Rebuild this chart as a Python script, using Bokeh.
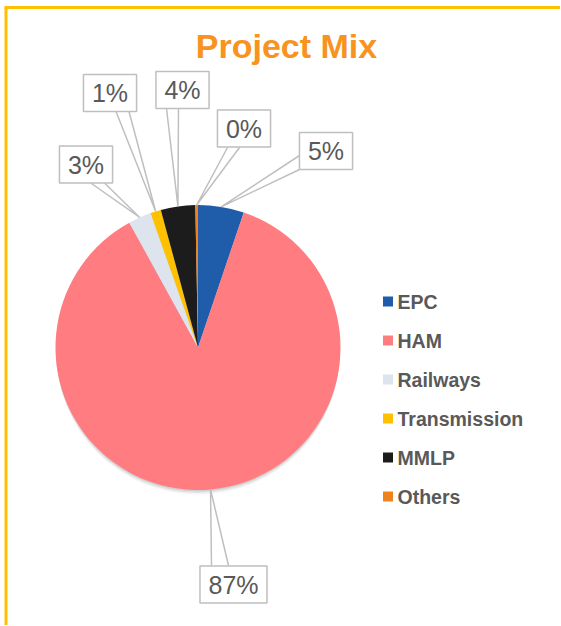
import math
from bokeh.plotting import figure
from bokeh.models import Range1d, ColumnDataSource
from bokeh.embed import file_html
from bokeh.resources import INLINE
from bokeh.core.properties import value

# ---- data ----
categories = ["EPC", "HAM", "Railways", "Transmission", "MMLP", "Others"]
shares = [5.2, 86.8, 2.6, 1.2, 3.9, 0.3]
colors = ["#1F5DAB", "#FF7C80", "#DDE4EE", "#FFC000", "#1C1C1C", "#F0821E"]
title_text = "Project Mix"

# ---- layout (page pixel coordinates; y measured downward) ----
W, H = 560, 625
CX, CY, R = 197.5, 347.0, 142.5
label_centers = [(325.5, 150.5), (233.0, 584.0), (85.5, 164.0),
                 (109.5, 92.5), (182.0, 89.5), (243.5, 128.0)]
# pointer base points, relative to box centre
pointer_bases = [((-26.5, 4.5), (-26.5, 18.5)),
                 ((-22.0, -19.0), (-5.0, -19.0)),
                 ((4.0, 18.0), (18.0, 18.0)),
                 ((6.0, 18.5), (19.0, 18.5)),
                 ((-16.0, 18.5), (-4.0, 18.5)),
                 ((-16.5, 19.0), (-4.5, 19.0))]
legend_y = [301, 340, 379, 418, 457, 496]

FONT = "Liberation Sans"
TXT = "#595959"

p = figure(width=W, height=H, output_backend="svg", toolbar_location=None,
           x_range=Range1d(0, W), y_range=Range1d(-H, 0),
           x_axis_type=None, y_axis_type=None, min_border=0)
p.grid.visible = False
p.outline_line_color = None
p.background_fill_color = "white"
p.border_fill_color = "white"

# soft shadow under pie
for dy, a in [(5, 0.06), (3.5, 0.09), (2, 0.12)]:
    p.circle(x=[CX], y=[-(CY + dy)], radius=R - 0.5, fill_color="#404040",
             fill_alpha=a, line_color=None)

# wedges
starts, ends, mids = [], [], []
cum = 0.0
for v in shares:
    s = math.pi / 2 - 2 * math.pi * cum / 100.0
    e = math.pi / 2 - 2 * math.pi * (cum + v) / 100.0
    starts.append(s)
    ends.append(e)
    mids.append((s + e) / 2)
    cum += v
src = ColumnDataSource(dict(start=starts, end=ends, color=colors, cat=categories))
p.wedge(x=CX, y=-CY, radius=R, start_angle="start", end_angle="end",
        direction="clock", fill_color="color", line_color=None, source=src)

# callouts
labels = [f"{round(v)}%" for v in shares]
xs_lines, ys_lines = [], []
for (lx, ly), (b1, b2), m in zip(label_centers, pointer_bases, mids):
    ax = CX + R * math.cos(m)
    ay = -CY + R * math.sin(m)
    xs_lines.append([lx + b1[0], ax, lx + b2[0]])
    ys_lines.append([-(ly + b1[1]), ay, -(ly + b2[1])])
p.multi_line(xs=xs_lines, ys=ys_lines, line_color="#BFBFBF", line_width=1.5)

FS = 25
def text_w(t):
    w = 0.0
    for ch in t:
        w += 0.889 if ch == "%" else 0.556
    return w * FS

bw = [text_w(t) + 17 for t in labels]
p.rect(x=[c[0] for c in label_centers], y=[-c[1] for c in label_centers],
       width=bw, height=37, fill_color="white", line_color="#BFBFBF",
       line_width=1.5)
p.text(x=[c[0] for c in label_centers], y=[-c[1] for c in label_centers],
       text=labels, text_font=value(FONT), text_font_size=f"{FS}px",
       text_color=TXT, text_align="center", text_baseline="middle")

# legend
p.rect(x=[387.5] * len(categories), y=[-y for y in legend_y], width=10, height=10,
       fill_color=colors, line_color=None)
p.text(x=[397] * len(categories), y=[-y for y in legend_y], text=categories,
       text_font=value(FONT), text_font_size="19.5px", text_font_style="bold",
       text_color=TXT, text_align="left", text_baseline="middle")

# title
p.text(x=[286], y=[-45], text=[title_text], text_font=value(FONT),
       text_font_size="34px", text_font_style="bold", text_color="#F7931E",
       text_align="center", text_baseline="middle")

# frame (left and top edges visible)
p.line(x=[5.5, 5.5], y=[-H, -7], line_color="#FFC000", line_width=3)
p.line(x=[4, W], y=[-7, -7], line_color="#FFC000", line_width=3)

open("out.html", "w").write(file_html(p, INLINE))
